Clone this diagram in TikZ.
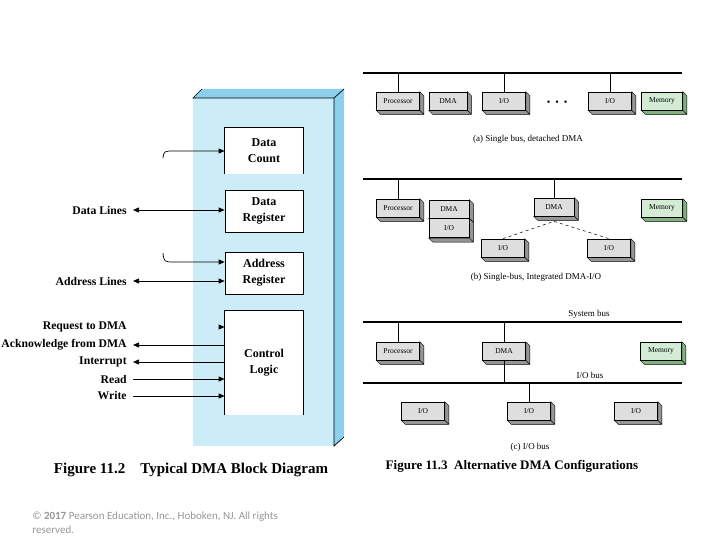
\documentclass[tikz,border=0pt]{standalone}
\usepackage{fontspec}
\setmainfont{Liberation Serif}
\newfontfamily\copyfont{Carlito}
\usetikzlibrary{backgrounds, calc, arrows.meta, positioning}

\definecolor{panelfront}{RGB}{204,236,248}
\definecolor{panelside}{RGB}{140,208,238}
\definecolor{unitgray}{RGB}{222,222,222}
\definecolor{unitshade}{RGB}{150,150,150}
\definecolor{memgreen}{RGB}{212,236,212}
\definecolor{memshade}{RGB}{128,178,128}
\definecolor{copygray}{RGB}{150,150,150}

\begin{document}
\begin{tikzpicture}[x=1pt, y=-1pt, line width=0.7pt,
	>={Triangle[length=6pt, width=5pt]},
	lbl/.style={font=\fontsize{11.7}{14}\selectfont\bfseries, anchor=east, inner sep=0pt},
	reg/.style={fill=white, minimum width=78, inner sep=0pt, align=center,
	            font=\fontsize{12}{16}\selectfont\bfseries},
	unit/.style={draw, fill=unitgray, minimum width=43, minimum height=18,
	             inner sep=0pt, font=\fontsize{7.5}{9}\selectfont},
	bus/.style={line width=2.8pt},
	note/.style={font=\fontsize{9}{10}\selectfont, inner sep=0pt}]
	\useasboundingbox (0,0) rectangle (720,540);

	% Figure 11.2
	\fill[panelfront] (193,98) rectangle (334,446);
	\fill[panelside] (193,98) -- (202,89) -- (344,89) -- (334,98) -- cycle;
	\fill[panelside] (334,98) -- (344,89) -- (344,437) -- (334,446) -- cycle;
	\draw (202,89) -- (193,98) -- (334,98) -- (344,89);
	\draw (334,98) -- (334,446) -- (344,437);

	\node[reg, minimum height=46] (dcount) at (264,151) {Data\\Count};
	\node[reg, minimum height=42, draw] (dreg) at (264,211) {Data\\Register};
	\node[reg, minimum height=42, draw] (areg) at (264,273) {Address\\Register};
	\node[reg, minimum height=104] (ctrl) at (264,363) {Control\\Logic};
	\draw (dcount.south west) |- (dcount.north east) -- (dcount.south east);
	\draw (ctrl.south west) |- (ctrl.north east) -- (ctrl.south east);

	\coordinate (dcstub) at (163,158);
	\coordinate (arstub) at (163,253);
	\draw[->] (dcstub) .. controls (164,151) .. (175,151) -- (dcount.west);
	\draw[->] (arstub) .. controls (164,262) .. (175,262) -- (areg.west |- 0,262);

	\node[lbl] (datalines) at (127,210) {Data Lines};
	\node[lbl] (addrlines) at (127,281) {Address Lines};
	\node[lbl] (req) at (127,327) {Request to DMA};
	\node[lbl] (ack) at (127,345) {Acknowledge from DMA};
	\node[lbl] (intr) at (127,362) {Interrupt};
	\node[lbl] (rd) at (127,379) {Read};
	\node[lbl] (wr) at (127,396) {Write};

	\draw[<->] ([xshift=6pt]datalines.east) -- (datalines.east -| dreg.west);
	\draw[<->] ([xshift=6pt]addrlines.east) -- (addrlines.east -| areg.west);
	\draw[->] ([xshift=92pt]req.east) -- (req.east -| ctrl.west);
	\foreach \s in {ack, intr}
		\draw[<-] ([xshift=6pt]\s.east) -- (\s.east -| ctrl.west);
	\foreach \s in {rd, wr}
		\draw[->] ([xshift=6pt]\s.east) -- (\s.east -| ctrl.west);

	\node[inner sep=0pt, font=\fontsize{15}{18}\selectfont\bfseries] (fig2)
	  at (191,470) {Figure 11.2\quad Typical DMA Block Diagram};

	% Figure 11.3 (a)
	\coordinate (busaL) at (363,73);
	\coordinate (busaR) at (682,73);
	\draw[bus] (busaL) -- (busaR);
	\node[unit] (aproc) at (398,101) {Processor};
	\node[unit, minimum width=38] (adma) at (448,101) {DMA};
	\node[unit] (aio) at (504,101) {I/O};
	\node[inner sep=0pt, font=\fontsize{10}{10}\selectfont] (adots) at (557,103) {•\hspace{5pt}•\hspace{5pt}•};
	\node[unit] (aion) at (610,101) {I/O};
	\node[unit, fill=memgreen, minimum width=41] (amem) at (662,101) {Memory};
	\foreach \u in {aproc, aio, aion}
		\draw (\u) -- (\u |- busaL);
	\node[note] (capa) at (528,139) {(a) Single bus, detached DMA};

	% (b)
	\coordinate (busbL) at (363,179);
	\coordinate (busbR) at (682,179);
	\draw[bus] (busbL) -- (busbR);
	\node[unit] (bproc) at (398,208) {Processor};
	\node[unit, minimum width=40] (bdma) at (449,209) {DMA};
	\node[unit, minimum width=40, minimum height=19, below=0pt of bdma] (bio) {I/O};
	\node[unit, minimum width=40] (bdmac) at (554,207) {DMA};
	\node[unit, fill=memgreen, minimum width=41] (bmem) at (662,208) {Memory};
	\node[unit] (bioa) at (503,248) {I/O};
	\node[unit] (biob) at (609,248) {I/O};
	\foreach \u in {bproc, bdmac}
		\draw (\u) -- (\u |- busbL);
	\coordinate (bfork) at ([yshift=-5pt]bdmac.south);
	\draw[dashed, line width=0.5pt] (bioa.north) -- (bfork) -- (biob.north);
	\node[note] (capb) at (536,277) {(b) Single-bus, Integrated DMA-I/O};

	% (c)
	\coordinate (syscL) at (363,322);
	\coordinate (syscR) at (682,322);
	\coordinate (iocL) at (363,383);
	\coordinate (iocR) at (682,383);
	\draw[bus] (syscL) -- (syscR);
	\draw[bus] (iocL) -- (iocR);
	\node[note] (sysbus) at (589,314) {System bus};
	\node[note] (iobus) at (590,375) {I/O bus};
	\node[unit] (cproc) at (398,351) {Processor};
	\node[unit] (cdma) at (504,351) {DMA};
	\node[unit, fill=memgreen, minimum width=41] (cmem) at (661,351) {Memory};
	\node[unit] (cioa) at (423,411) {I/O};
	\node[unit] (ciob) at (529,411) {I/O};
	\node[unit] (cioc) at (636,411) {I/O};
	\foreach \u in {cproc, cdma}
		\draw (\u) -- (\u |- syscL);
	\foreach \u in {cdma, ciob}
		\draw (\u) -- (\u |- iocL);
	\node[note] (capc) at (530,447) {(c) I/O bus};

	\node[inner sep=0pt, font=\fontsize{13}{16}\selectfont\bfseries] (fig3)
	  at (512,466) {Figure 11.3\enspace Alternative DMA Configurations};

	% box depth
	\begin{scope}[on background layer]
		\foreach \u/\c in {aproc/unitshade, adma/unitshade, aio/unitshade,
		                   aion/unitshade, amem/memshade, bproc/unitshade,
		                   bdma/unitshade, bio/unitshade, bdmac/unitshade,
		                   bmem/memshade, bioa/unitshade, biob/unitshade,
		                   cproc/unitshade, cdma/unitshade, cmem/memshade,
		                   cioa/unitshade, ciob/unitshade, cioc/unitshade}
			\filldraw[fill=\c] (\u.north east) -- ++(4,4)
			  -- ($(\u.south east)+(4,4)$) -- ($(\u.south west)+(4,4)$)
			  -- (\u.south west) -- (\u.south east) -- cycle
			  (\u.south east) -- ++(4,4);
	\end{scope}

	\node[anchor=north west, align=left, inner sep=0pt, text=copygray,
	      font=\copyfont\fontsize{11}{14}\selectfont] (copyright)
	  at (32,512) {© \textbf{2017} Pearson Education, Inc., Hoboken, NJ. All rights\\reserved.};
\end{tikzpicture}
\end{document}
